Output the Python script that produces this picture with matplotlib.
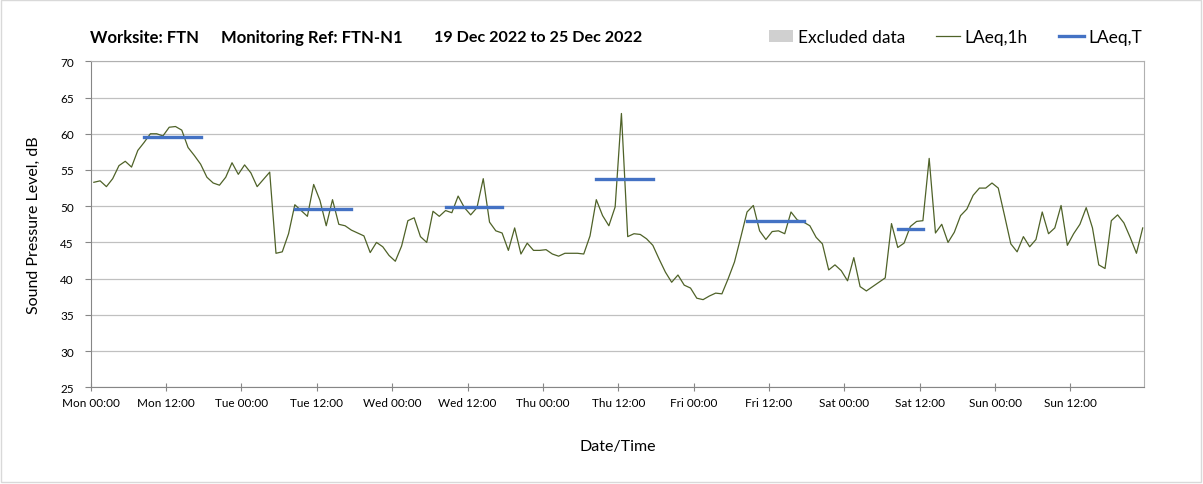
import pandas as pd
import matplotlib
matplotlib.use("Agg")
from matplotlib import pyplot as plt
from matplotlib import dates as mdates
from matplotlib.patches import Patch, Rectangle
from matplotlib.lines import Line2D

# hourly LAeq,1h values, Mon 19 Dec 2022 00:00 -> Sun 25 Dec 2022 23:00
laeq_1h = [
    53.3, 53.5, 52.7, 53.8, 55.6, 56.2, 55.4, 57.7, 58.8, 60.0, 60.0, 59.7,
    60.9, 61.0, 60.5, 58.1, 57.0, 55.8, 54.0, 53.2, 52.9, 54.0, 56.0, 54.4,
    55.7, 54.6, 52.7, 53.7, 54.7, 43.5, 43.7, 46.2, 50.2, 49.4, 48.6, 53.0,
    50.8, 47.3, 50.9, 47.5, 47.3, 46.7, 46.3, 45.9, 43.6, 45.0, 44.4, 43.2,
    42.4, 44.5, 48.0, 48.4, 45.8, 45.0, 49.3, 48.6, 49.4, 49.1, 51.4, 49.8,
    48.8, 49.8, 53.8, 47.8, 46.6, 46.3, 43.9, 47.0, 43.4, 44.9, 43.9, 43.9,
    44.0, 43.4, 43.1, 43.5, 43.5, 43.5, 43.4, 45.9, 50.9, 48.7, 47.3, 49.9,
    62.8, 45.8, 46.2, 46.1, 45.5, 44.6, 42.7, 40.9, 39.5, 40.5, 39.1, 38.7,
    37.3, 37.1, 37.6, 38.0, 37.9, 40.0, 42.3, 45.7, 49.2, 50.1, 46.6, 45.4,
    46.5, 46.6, 46.2, 49.2, 48.1, 47.8, 47.3, 45.7, 44.8, 41.2, 41.9, 41.1,
    39.7, 42.9, 38.9, 38.3, 38.9, 39.5, 40.1, 47.6, 44.3, 44.9, 47.2, 47.9,
    48.0, 56.6, 46.3, 47.5, 45.0, 46.4, 48.7, 49.6, 51.5, 52.5, 52.5, 53.2,
    52.5, 48.7, 44.8, 43.7, 45.8, 44.4, 45.4, 49.2, 46.2, 47.0, 50.1, 44.6,
    46.2, 47.5, 49.8, 47.0, 41.9, 41.4, 48.0, 48.8, 47.7, 45.7, 43.5, 47.0,
]

# LAeq,T periods
period_start = ["2022-12-19 08:30", "2022-12-20 08:30", "2022-12-21 08:30",
                "2022-12-22 08:30", "2022-12-23 08:30", "2022-12-24 08:30"]
period_end = ["2022-12-19 17:30", "2022-12-20 17:30", "2022-12-21 17:30",
              "2022-12-22 17:30", "2022-12-23 17:30", "2022-12-24 12:30"]
laeq_t = [59.5, 49.6, 49.9, 53.8, 47.9, 46.8]

times = pd.date_range("2022-12-19 00:30", periods=len(laeq_1h), freq="h")

GREEN = "#4f6228"
BLUE = "#4472c4"

plt.rcParams["font.family"] = ["Lato", "DejaVu Sans"]

fig = plt.figure(figsize=(12.03, 4.85), dpi=100)
ax = fig.add_axes([0.0754, 0.1994, 0.8758, 0.6721])

ax.plot(times, laeq_1h, color=GREEN, lw=0.9)
for s, e, v in zip(period_start, period_end, laeq_t):
    ax.plot([pd.Timestamp(s), pd.Timestamp(e)], [v, v], color=BLUE, lw=2.4)

ax.set_ylim(25, 70)
ax.set_yticks(range(25, 71, 5))
ax.set_xlim(pd.Timestamp("2022-12-19 00:00"), pd.Timestamp("2022-12-25 23:45"))

# ticks every 12 h, grid only on day boundaries
ax.xaxis.set_major_locator(mdates.HourLocator(byhour=[0, 12]))
ax.xaxis.set_major_formatter(mdates.DateFormatter("%a %H:%M"))
ax.xaxis.set_minor_locator(mdates.DayLocator())
ax.grid(True, which="minor", axis="x", color="#d9d9d9", lw=0.9)
ax.grid(True, which="major", axis="y", color="#c0c0c0", lw=0.9)
ax.set_axisbelow(True)

ax.tick_params(axis="x", which="major", direction="inout", length=6, color="#868686",
               labelsize=8.5, pad=4)
ax.tick_params(axis="x", which="minor", length=0)
ax.tick_params(axis="y", direction="out", length=4, color="#868686", labelsize=8.5, pad=8)

for side in ["left", "bottom"]:
    ax.spines[side].set_color("#868686")
for side in ["top", "right"]:
    ax.spines[side].set_color("#b0b0b0")

ax.set_ylabel("Sound Pressure Level, dB", fontsize=11.5, labelpad=14)
ax.set_xlabel("Date/Time", fontsize=11.5, labelpad=22)

fig.text(0.0748, 0.922, "Worksite: FTN", fontsize=12, fontweight="bold", va="center")
fig.text(0.1837, 0.922, "Monitoring Ref: FTN-N1", fontsize=12, fontweight="bold", va="center")
fig.text(0.3608, 0.922, "19 Dec 2022 to 25 Dec 2022", fontsize=11.6, fontweight="bold", va="center")

handles = [Patch(facecolor="#d0d0d0", edgecolor="none"),
           Line2D([], [], color=GREEN, lw=0.9),
           Line2D([], [], color=BLUE, lw=2.4)]
fig.legend(handles, ["Excluded data", "LAeq,1h", "LAeq,T"], loc="center right",
           bbox_to_anchor=(0.962, 0.922), ncol=3, frameon=False, fontsize=12.5,
           handlelength=1.4, handletextpad=0.25, columnspacing=1.8)

fig.add_artist(Rectangle((0.001, 0.004), 0.997, 0.993, transform=fig.transFigure,
                         fill=False, edgecolor="#d9d9d9", lw=1))

fig.savefig("out.png", dpi=100)
